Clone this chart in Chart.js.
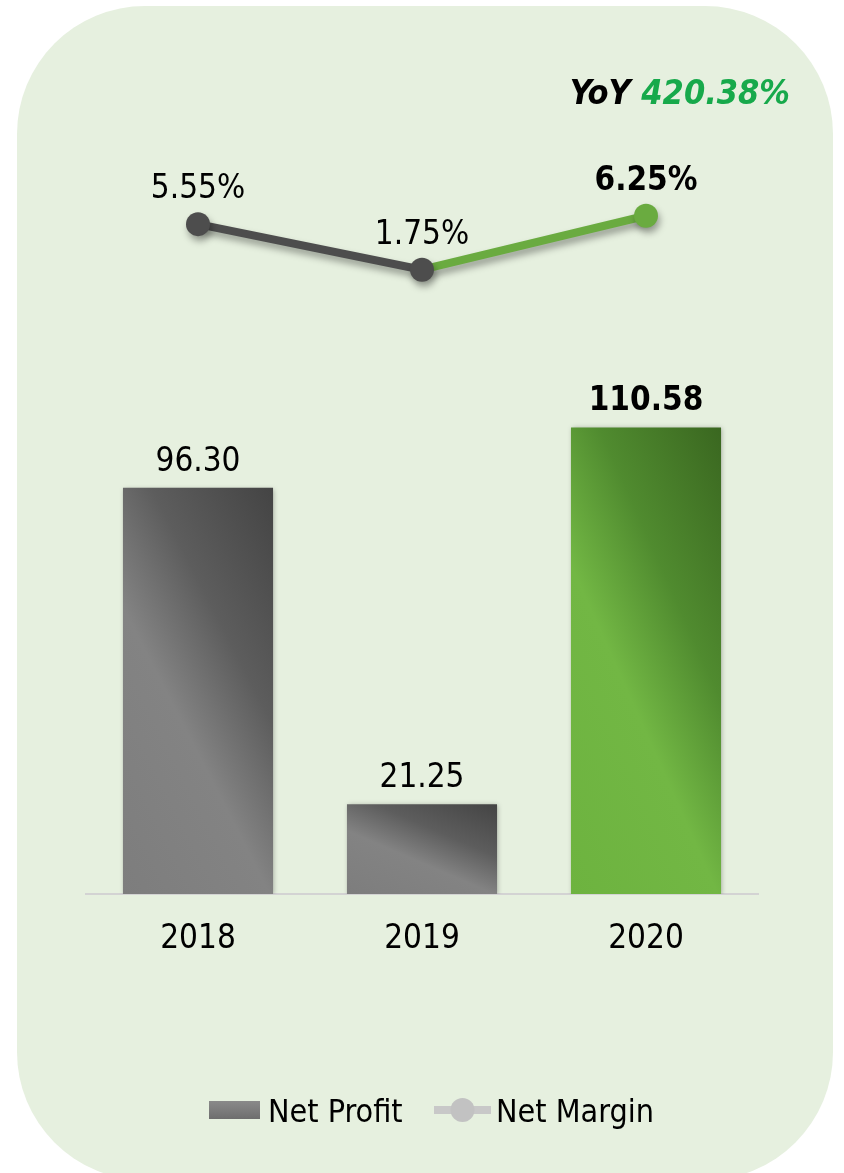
<!DOCTYPE html>
<html><head><meta charset="utf-8">
<script src="https://cdn.jsdelivr.net/npm/chart.js@4.4.1/dist/chart.umd.min.js"></script>
<style>html,body{margin:0;padding:0;background:#fff;}canvas{display:block;}</style>
</head><body>
<canvas id="c" width="844" height="1173"></canvas>
<script>
// ---- data ----
const categories = ['2018', '2019', '2020'];
const netProfit = [96.30, 21.25, 110.58];
const netMargin = [5.55, 1.75, 6.25];
const seriesNames = ['Net Profit', 'Net Margin'];
const yoyLabel = 'YoY';

// ---- style ----
const FONT = "'DejaVu Sans Condensed', 'DejaVu Sans', sans-serif";
const GRAY = '#4d4d4d', GREEN = '#6aab40';
const LAST = categories.length - 1;
const BAR_PCT = 0.67;

function barFill(c) {
  const chart = c.chart;
  const isLast = c.dataIndex === LAST;
  if (!chart.chartArea) return isLast ? GREEN : '#777';
  const xs = chart.scales.x, ys = chart.scales.y;
  const xc = xs.getPixelForValue(c.dataIndex);
  const w = xs.width / categories.length * BAR_PCT;
  const x0 = xc - w / 2;
  const yt = ys.getPixelForValue(c.raw), yb = ys.getPixelForValue(0);
  const h = Math.max(1, yb - yt);
  const nx = 0.72 * h, ny = -w;
  const t = (w * nx - h * ny) / (nx * nx + ny * ny);
  const g = chart.ctx.createLinearGradient(x0, yb, x0 + nx * t, yb + ny * t);
  if (isLast) {
    g.addColorStop(0, '#6db33f'); g.addColorStop(0.41, '#72b744');
    g.addColorStop(0.66, '#508b2f'); g.addColorStop(1, '#3a6720');
  } else {
    g.addColorStop(0, '#7d7d7d'); g.addColorStop(0.41, '#838383');
    g.addColorStop(0.66, '#5d5d5d'); g.addColorStop(1, '#444444');
  }
  return g;
}

const bgPlugin = {
  id: 'bg',
  beforeDraw(chart) {
    const ctx = chart.ctx;
    ctx.save();
    ctx.fillStyle = '#ffffff';
    ctx.fillRect(0, 0, chart.width, chart.height);
    ctx.fillStyle = '#e6f0df';
    ctx.beginPath();
    ctx.roundRect(17, 6, 816, 1174, 128);
    ctx.fill();
    ctx.restore();
  }
};

const shadowPlugin = {
  id: 'shadow',
  beforeDatasetDraw(chart, args) {
    const ctx = chart.ctx;
    ctx.save();
    const type = chart.data.datasets[args.index].type;
    if (type === 'line') {
      ctx.shadowColor = 'rgba(0,0,0,0.35)';
      ctx.shadowBlur = 7; ctx.shadowOffsetX = 2; ctx.shadowOffsetY = 5;
    } else {
      ctx.shadowColor = 'rgba(0,0,0,0.3)';
      ctx.shadowBlur = 5; ctx.shadowOffsetX = 1; ctx.shadowOffsetY = 1;
    }
  },
  afterDatasetDraw(chart) { chart.ctx.restore(); }
};

const labelPlugin = {
  id: 'labels',
  afterDatasetsDraw(chart) {
    const ctx = chart.ctx;
    ctx.save();
    ctx.fillStyle = '#000';
    ctx.textAlign = 'center';
    ctx.textBaseline = 'alphabetic';
    chart.data.datasets.forEach((ds, di) => {
      const meta = chart.getDatasetMeta(di);
      meta.data.forEach((el, i) => {
        const bold = i === LAST ? 'bold ' : '';
        ctx.font = bold + '33px ' + FONT;
        if (ds.type === 'line') {
          ctx.fillText(ds.data[i].toFixed(2) + '%', el.x, el.y - 26);
        } else {
          ctx.fillText(ds.data[i].toFixed(2), el.x, el.y - 17);
        }
      });
    });
    // YoY headline
    const yoy = (netProfit[LAST] - netProfit[LAST - 1]) / netProfit[LAST - 1] * 100;
    ctx.font = 'italic bold 34px ' + FONT;
    ctx.textAlign = 'left';
    const a = yoyLabel + ' ', b = yoy.toFixed(2) + '%';
    const wa = ctx.measureText(a).width, wb = ctx.measureText(b).width;
    const right = 790, base = 104;
    ctx.fillStyle = '#000';
    ctx.fillText(a, right - wa - wb, base);
    ctx.fillStyle = '#17a94b';
    ctx.fillText(b, right - wb, base);
    ctx.restore();
  }
};

const legendPlugin = {
  id: 'customLegend',
  afterDraw(chart) {
    const ctx = chart.ctx;
    ctx.save();
    ctx.font = '32px ' + FONT;
    ctx.textBaseline = 'alphabetic';
    ctx.textAlign = 'left';
    const t1 = seriesNames[0], t2 = seriesNames[1];
    const w1 = ctx.measureText(t1).width, w2 = ctx.measureText(t2).width;
    const total = 51 + 8 + w1 + 32 + 57 + 5 + w2;
    let x = 209;
    const cy = 1110, base = 1122;
    const g = ctx.createLinearGradient(0, cy - 9, 0, cy + 9);
    g.addColorStop(0, '#8a8a8a'); g.addColorStop(1, '#6e6e6e');
    ctx.fillStyle = g;
    ctx.fillRect(x, cy - 9, 51, 18);
    x += 51 + 8;
    ctx.fillStyle = '#000';
    ctx.fillText(t1, x, base);
    x = Math.max(x + w1 + 28, 434);
    ctx.strokeStyle = '#c8c8c8';
    ctx.lineWidth = 8;
    ctx.beginPath(); ctx.moveTo(x, cy); ctx.lineTo(x + 57, cy); ctx.stroke();
    ctx.fillStyle = '#c2c2c2';
    ctx.beginPath(); ctx.arc(x + 28.5, cy, 12, 0, Math.PI * 2); ctx.fill();
    x += 57 + 5;
    ctx.fillStyle = '#000';
    ctx.fillText(t2, x, base);
    ctx.restore();
  }
};

new Chart(document.getElementById('c'), {
  type: 'bar',
  data: {
    labels: categories,
    datasets: [
      {
        type: 'line', label: seriesNames[1], data: netMargin, yAxisID: 'y1', order: 0,
        borderWidth: 8, borderColor: GRAY, tension: 0,
        segment: { borderColor: c => c.p1DataIndex === LAST ? GREEN : GRAY },
        pointRadius: 12, pointHoverRadius: 12, pointBorderWidth: 0,
        pointBackgroundColor: c => c.dataIndex === LAST ? GREEN : GRAY
      },
      {
        type: 'bar', label: seriesNames[0], data: netProfit, yAxisID: 'y', order: 1,
        backgroundColor: barFill, borderWidth: 0,
        barPercentage: BAR_PCT, categoryPercentage: 1
      }
    ]
  },
  options: {
    responsive: false, devicePixelRatio: 1, animation: false,
    layout: { padding: { left: 86, right: 86, top: 100, bottom: 199 } },
    plugins: { legend: { display: false }, tooltip: { enabled: false } },
    scales: {
      x: {
        offset: true,
        grid: { display: false, drawTicks: false },
        border: { display: true, color: '#d3d3d3', width: 2 },
        ticks: { color: '#000', font: { family: FONT, size: 33 }, padding: 26 },
        afterFit(s) { s.height = 80; }
      },
      y: { display: false, min: 0, max: 188.2 },
      y1: { display: false, min: -50.3, max: 15.9 }
    }
  },
  plugins: [bgPlugin, shadowPlugin, labelPlugin, legendPlugin]
});
</script>
</body></html>
